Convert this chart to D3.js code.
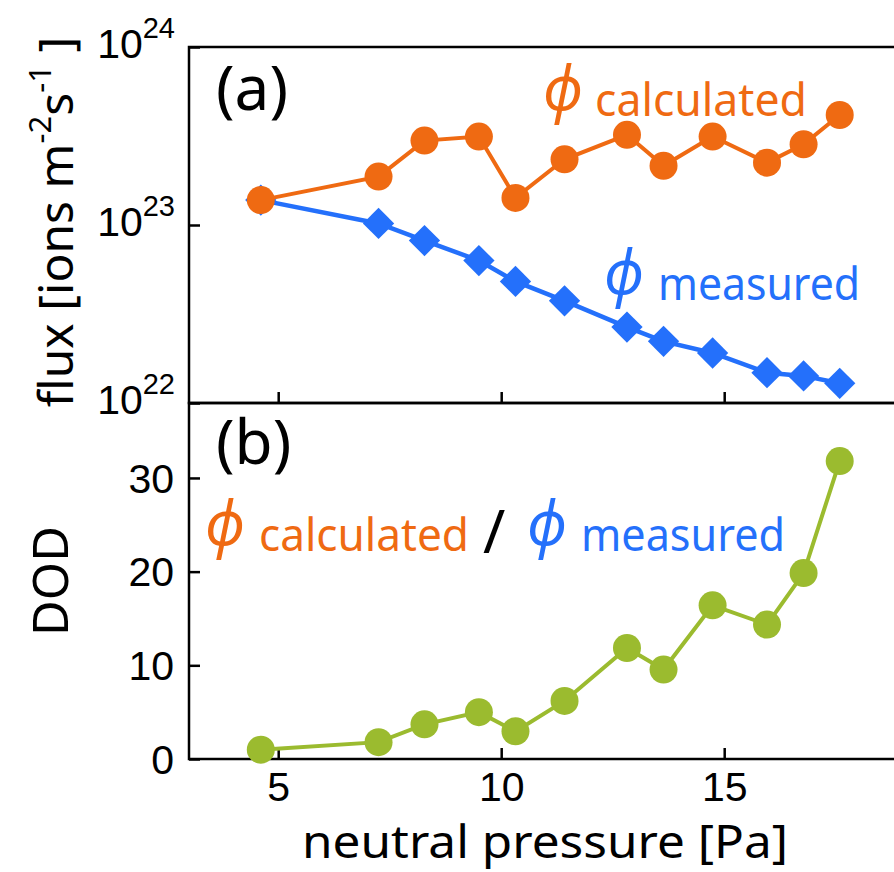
<!DOCTYPE html>
<html>
<head>
<meta charset="utf-8">
<script src="https://cdn.jsdelivr.net/npm/d3@7"></script>
<style>
  html, body { margin: 0; padding: 0; background: #fff; }
  svg { display: block; font-family: "Noto Sans", "Open Sans", sans-serif; }
  .tick text { font-family: "Liberation Sans", Arial, sans-serif; }
</style>
</head>
<body>
<svg id="chart" width="894" height="872"></svg>
<script>
// ---- data ----
const pressure = [4.61, 7.25, 8.28, 9.50, 10.32, 11.42, 12.82, 13.64, 14.74, 15.96, 16.78, 17.59];
const fluxCalculated = [1.38e23, 1.87e23, 2.98e23, 3.14e23, 1.42e23, 2.34e23, 3.21e23, 2.15e23, 3.14e23, 2.24e23, 2.84e23, 4.15e23];
const fluxMeasured = [1.38e23, 1.02e23, 8.18e22, 6.31e22, 4.82e22, 3.75e22, 2.67e22, 2.22e22, 1.91e22, 1.48e22, 1.42e22, 1.29e22];
const dod = [1.0, 1.8, 3.7, 5.0, 2.95, 6.2, 11.85, 9.55, 16.4, 14.35, 19.85, 31.8];
const xTicks = [5, 10, 15];
const fluxTicks = [1e22, 1e23, 1e24];
const fluxTickExp = ["22", "23", "24"];
const dodTicks = [0, 10, 20, 30];

const ORANGE = "#ef6a12", BLUE = "#2470fb", GREEN = "#9bbb2f";

const svg = d3.select("#chart");

const x = d3.scaleLinear().domain([3, 19]).range([189, 902.6]);
const yTop = d3.scaleLog().domain([1e22, 1e24]).range([403, 47]);
const yBot = d3.scaleLinear().domain([0, 38]).range([759, 403]);

const tickLen = 11;

// frames
function frame(y0, y1) {
  svg.append("rect").attr("x", x.range()[0]).attr("y", y0)
    .attr("width", x.range()[1] - x.range()[0]).attr("height", y1 - y0)
    .attr("fill", "none").attr("stroke", "#000").attr("stroke-width", 2.5);
}
frame(47, 403);
frame(403, 759);

// x axes (ticks inward) for both panels
[[403, true], [759, false]].forEach(([yy, isTop]) => {
  const ax = svg.append("g").attr("transform", `translate(0,${yy})`)
    .call(d3.axisBottom(x).tickValues(xTicks).tickSize(-tickLen).tickSizeOuter(0).tickFormat(isTop ? "" : d3.format("d")));
  ax.select(".domain").remove();
  ax.selectAll(".tick line").attr("stroke-width", 2.5);
  ax.selectAll(".tick text").attr("font-size", 41).attr("fill", "#000")
    .attr("y", 0).attr("dy", null).attr("transform", "translate(0,42)");
});

// y axis top (log)
const axTop = svg.append("g").attr("transform", `translate(${x.range()[0]},0)`)
  .call(d3.axisLeft(yTop).tickValues(fluxTicks).tickSize(-tickLen).tickSizeOuter(0).tickFormat(""));
axTop.select(".domain").remove();
axTop.selectAll(".tick line").attr("stroke-width", 2.5);
axTop.selectAll(".tick").each(function(d, i) {
  const t = d3.select(this).append("text").attr("x", -14).attr("y", 10)
    .attr("text-anchor", "end").attr("fill", "#000").attr("font-size", 41);
  t.append("tspan").text("10");
  t.append("tspan").attr("font-size", 29).attr("dy", -20).text(fluxTickExp[i]);
});

// y axis bottom
const axBot = svg.append("g").attr("transform", `translate(${x.range()[0]},0)`)
  .call(d3.axisLeft(yBot).tickValues(dodTicks).tickSize(-tickLen).tickSizeOuter(0).tickFormat(d3.format("d")));
axBot.select(".domain").remove();
axBot.selectAll(".tick line").attr("stroke-width", 2.5);
axBot.selectAll(".tick text").attr("font-size", 41).attr("fill", "#000")
  .attr("x", -15).attr("dy", "0.35em");

// ---- top panel series ----
const pts = pressure.map((p, i) => ({ p, c: fluxCalculated[i], m: fluxMeasured[i], d: dod[i] }));

svg.append("path").datum(pts)
  .attr("fill", "none").attr("stroke", BLUE).attr("stroke-width", 4.5)
  .attr("d", d3.line().x(d => x(d.p)).y(d => yTop(d.m)));
const diamond = d3.symbol().type(d3.symbolSquare).size(490);
svg.append("g").selectAll("path").data(pts).join("path")
  .attr("d", diamond)
  .attr("transform", d => `translate(${x(d.p)},${yTop(d.m)}) rotate(45)`)
  .attr("fill", BLUE);

svg.append("path").datum(pts)
  .attr("fill", "none").attr("stroke", ORANGE).attr("stroke-width", 4)
  .attr("d", d3.line().x(d => x(d.p)).y(d => yTop(d.c)));
svg.append("g").selectAll("circle").data(pts).join("circle")
  .attr("cx", d => x(d.p)).attr("cy", d => yTop(d.c)).attr("r", 14)
  .attr("fill", ORANGE);

// ---- bottom panel series ----
svg.append("path").datum(pts)
  .attr("fill", "none").attr("stroke", GREEN).attr("stroke-width", 4)
  .attr("d", d3.line().x(d => x(d.p)).y(d => yBot(d.d)));
svg.append("g").selectAll("circle").data(pts).join("circle")
  .attr("cx", d => x(d.p)).attr("cy", d => yBot(d.d)).attr("r", 14)
  .attr("fill", GREEN);

// ---- annotations ----
function phiLabel(xPhi, xWord, baseline, color, word, wordLen) {
  svg.append("text").attr("x", xPhi).attr("y", baseline - 6)
    .attr("font-size", 62).attr("font-style", "italic").attr("fill", color)
    .attr("textLength", 40).attr("lengthAdjust", "spacingAndGlyphs").text("\u03D5");
  svg.append("text").attr("x", xWord).attr("y", baseline)
    .attr("font-size", 46).attr("fill", color)
    .attr("textLength", wordLen).attr("lengthAdjust", "spacingAndGlyphs").text(word);
}
svg.append("text").attr("x", 216).attr("y", 110).attr("font-size", 62).attr("fill", "#000").text("(a)");
svg.append("text").attr("x", 216).attr("y", 464).attr("font-size", 62).attr("fill", "#000").text("(b)");

phiLabel(543, 595, 116, ORANGE, "calculated", 212);
phiLabel(604, 658, 300, BLUE, "measured", 202);

phiLabel(205, 259, 551, ORANGE, "calculated", 210);
svg.append("text").attr("x", 483).attr("y", 553).attr("font-size", 60).attr("fill", "#000").text("/");
phiLabel(527, 581, 551, BLUE, "measured", 204);

// axis titles
const fluxT = svg.append("text").attr("transform", "translate(73,222) rotate(-90)")
  .attr("text-anchor", "middle").attr("font-size", 48).attr("fill", "#000");
fluxT.append("tspan").text("flux [ions m");
fluxT.append("tspan").attr("font-size", 31).attr("dy", -22).text("-2");
fluxT.append("tspan").attr("dy", 22).text("s");
fluxT.append("tspan").attr("font-size", 31).attr("dy", -22).text("-1");
fluxT.append("tspan").attr("dy", 22).text(" ]");

svg.append("text").attr("transform", "translate(68,581) rotate(-90)")
  .attr("text-anchor", "middle").attr("font-size", 49).attr("fill", "#000").text("DOD");

svg.append("text").attr("x", 302).attr("y", 858)
  .attr("font-size", 46).attr("fill", "#000")
  .attr("textLength", 486).attr("lengthAdjust", "spacingAndGlyphs").text("neutral pressure [Pa]");
</script>
</body>
</html>
